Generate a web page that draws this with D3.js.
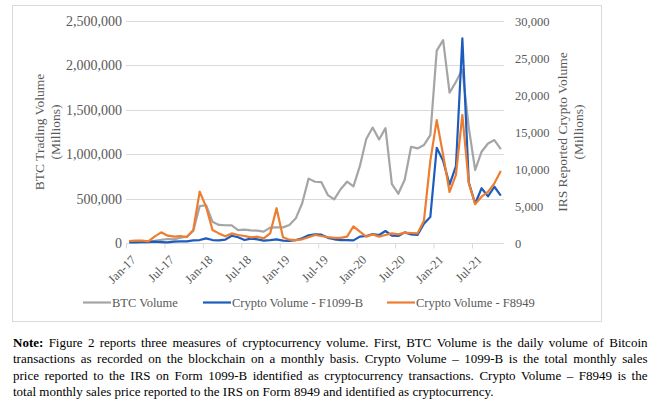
<!DOCTYPE html>
<html><head><meta charset="utf-8">
<script src="https://cdn.jsdelivr.net/npm/d3@7"></script>
<style>
body{margin:0;background:#fff;}
svg{display:block;}
text{font-family:"Liberation Serif","Times New Roman",serif;}
</style></head>
<body>
<svg id="chart" width="658" height="407"></svg>
<script>
const months = ["Jan-17","Feb-17","Mar-17","Apr-17","May-17","Jun-17","Jul-17","Aug-17","Sep-17","Oct-17","Nov-17","Dec-17",
"Jan-18","Feb-18","Mar-18","Apr-18","May-18","Jun-18","Jul-18","Aug-18","Sep-18","Oct-18","Nov-18","Dec-18",
"Jan-19","Feb-19","Mar-19","Apr-19","May-19","Jun-19","Jul-19","Aug-19","Sep-19","Oct-19","Nov-19","Dec-19",
"Jan-20","Feb-20","Mar-20","Apr-20","May-20","Jun-20","Jul-20","Aug-20","Sep-20","Oct-20","Nov-20","Dec-20",
"Jan-21","Feb-21","Mar-21","Apr-21","May-21","Jun-21","Jul-21","Aug-21","Sep-21","Oct-21","Nov-21"];
const tickLabels = ["Jan-17","Jul-17","Jan-18","Jul-18","Jan-19","Jul-19","Jan-20","Jul-20","Jan-21","Jul-21"];
const btcVolume = [15000,18000,20000,15000,25000,35000,45000,41000,60000,71000,135000,415000,
425000,240000,203000,200000,199000,146000,150000,143000,139000,128000,173000,176000,
176000,203000,278000,447000,725000,690000,685000,540000,492000,605000,690000,638000,
865000,1172000,1300000,1166000,1294000,662000,555000,712000,1084000,1065000,1103000,1215000,
2166000,2285000,1694000,1815000,1955000,1300000,822000,1028000,1121000,1159000,1058000];
const f1099b = [90,90,130,130,180,130,90,180,220,220,360,400,
630,400,360,450,980,770,400,590,500,320,400,500,
320,270,400,630,1040,1170,1120,700,500,400,400,360,
860,950,1220,1080,1620,990,950,1440,1150,1080,2600,3500,
12870,11100,7900,10400,27640,8200,5300,7400,6300,7600,6400];
const f8949 = [270,315,315,225,900,1440,990,855,945,810,1750,6940,
4900,1750,1300,900,1300,1080,950,770,850,630,1300,4700,
770,450,400,500,770,1080,950,800,700,700,860,2250,
1530,860,1170,860,1080,1300,1170,1400,1350,1300,3000,11100,
16600,11900,6900,9200,17300,8100,5250,6260,6900,8060,9740];
const leftTicks = [0,500000,1000000,1500000,2000000,2500000];
const rightTicks = [0,5000,10000,15000,20000,25000,30000];
const seriesNames = ["BTC Volume","Crypto Volume - F1099-B","Crypto Volume - F8949"];
const noteLines = [
 "Figure 2 reports three measures of cryptocurrency volume. First, BTC Volume is the daily volume of Bitcoin",
 "transactions as recorded on the blockchain on a monthly basis. Crypto Volume \u2013 1099-B is the total monthly sales",
 "price reported to the IRS on Form 1099-B identified as cryptocurrency transactions. Crypto Volume \u2013 F8949 is the",
 "total monthly sales price reported to the IRS on Form 8949 and identified as cryptocurrency."
];

const colors = ["#a5a5a5","#1c5cbc","#ed7d31"];
const grid = "#d9d9d9", txt = "#595959";
const svg = d3.select("#chart");
const L = 126, R = 504, T = 21, B = 243;

svg.append("rect").attr("x",12.5).attr("y",5.5).attr("width",589).attr("height",316)
  .attr("fill","none").attr("stroke","#d9d9d9").attr("stroke-width",1);

const x = d3.scaleLinear().domain([0, months.length]).range([L, R]);
const yL = d3.scaleLinear().domain([0, 2500000]).range([B, T]);
const yR = d3.scaleLinear().domain([0, 30000]).range([B, T]);

// gridlines
svg.append("g").selectAll("line").data(leftTicks).join("line")
  .attr("x1",L).attr("x2",R).attr("y1",d=>Math.round(yL(d))+0.5).attr("y2",d=>Math.round(yL(d))+0.5)
  .attr("stroke",grid).attr("stroke-width",1);

// left axis
const gl = svg.append("g").attr("transform",`translate(${L},0)`)
  .call(d3.axisLeft(yL).tickValues(leftTicks).tickSize(0).tickPadding(4).tickFormat(d3.format(",")));
gl.select(".domain").remove();
gl.selectAll("text").attr("fill",txt).style("font-size","14px").style("font-family","'Liberation Serif',serif");

// right axis
const gr = svg.append("g").attr("transform",`translate(${R},0)`)
  .call(d3.axisRight(yR).tickValues(rightTicks).tickSize(0).tickPadding(11).tickFormat(d3.format(",")));
gr.select(".domain").remove();
gr.selectAll("text").attr("fill",txt).style("font-size","12.5px").style("font-family","'Liberation Serif',serif");

// bottom axis
const tickIdx = tickLabels.map(t=>months.indexOf(t));
const gb = svg.append("g").attr("transform",`translate(0,${B+0.5})`)
  .call(d3.axisBottom(x).tickValues(tickIdx).tickSize(5).tickSizeOuter(0).tickFormat(i=>months[i]));
gb.select(".domain").attr("stroke",grid).attr("d",`M${L},0H${R}`);
gb.selectAll(".tick line").attr("stroke",grid);
gb.selectAll("text").attr("fill",txt).style("font-size","12.5px").style("font-family","'Liberation Serif',serif")
  .attr("text-anchor","end").attr("x",0).attr("y",0).attr("dy","0.35em")
  .attr("transform","translate(7,14) rotate(-45)");

// axis titles
const lt = svg.append("text").attr("transform","translate(44,132) rotate(-90)")
  .attr("text-anchor","middle").attr("fill",txt).style("font-size","13.5px");
lt.append("tspan").attr("x",0).attr("y",0).text("BTC Trading Volume");
lt.append("tspan").attr("x",0).attr("y",15.5).text("(Millions)");
const rt = svg.append("text").attr("transform","translate(567,132) rotate(-90)")
  .attr("text-anchor","middle").attr("fill",txt).style("font-size","13.5px");
rt.append("tspan").attr("x",0).attr("y",0).text("IRS Reported Crypto Volume");
rt.append("tspan").attr("x",0).attr("y",15.5).text("(Millions)");

// lines
const lineL = d3.line().x((d,i)=>x(i+0.5)).y(d=>yL(d));
const lineR = d3.line().x((d,i)=>x(i+0.5)).y(d=>yR(d));
svg.append("path").datum(btcVolume).attr("d",lineL).attr("fill","none").attr("stroke",colors[0]).attr("stroke-width",2.2).attr("stroke-linejoin","round");
svg.append("path").datum(f1099b).attr("d",lineR).attr("fill","none").attr("stroke",colors[1]).attr("stroke-width",2.2).attr("stroke-linejoin","round");
svg.append("path").datum(f8949).attr("d",lineR).attr("fill","none").attr("stroke",colors[2]).attr("stroke-width",2.2).attr("stroke-linejoin","round");

// legend
const legX = [83, 203, 387];
const lg = svg.append("g");
seriesNames.forEach((n,k)=>{
  lg.append("line").attr("x1",legX[k]).attr("x2",legX[k]+28).attr("y1",302.5).attr("y2",302.5)
    .attr("stroke",colors[k]).attr("stroke-width",2.2);
  lg.append("text").attr("x",legX[k]+29).attr("y",302.5).attr("dy","0.35em")
    .attr("fill",txt).style("font-size","12.5px").text(n);
});

// note (justified)
const noteLeft = 13, noteRight = 647.5, baselines = [346.7,363.2,379.5,395.8];
const ng = svg.append("g").style("font-size","13px").attr("fill","#000");
noteLines.forEach((line,li)=>{
  const words = (li===0 ? ["Note:"] : []).concat(line.split(" "));
  const nodes = words.map((w,wi)=>{
    const t = ng.append("text").attr("y",baselines[li]).text(w);
    if(li===0 && wi===0) t.style("font-weight","bold");
    return t;
  });
  const widths = nodes.map(t=>t.node().getComputedTextLength());
  const total = d3.sum(widths);
  const spaceW = (()=>{const t=ng.append("text").text("a a");const w3=t.node().getComputedTextLength();t.text("aa");const w2=t.node().getComputedTextLength();t.remove();return w3-w2;})();
  const gap = li < noteLines.length-1 ? (noteRight-noteLeft-total)/(words.length-1) : spaceW;
  let cx = noteLeft;
  nodes.forEach((t,i)=>{ t.attr("x",cx); cx += widths[i] + gap; });
});
</script>
</body></html>
